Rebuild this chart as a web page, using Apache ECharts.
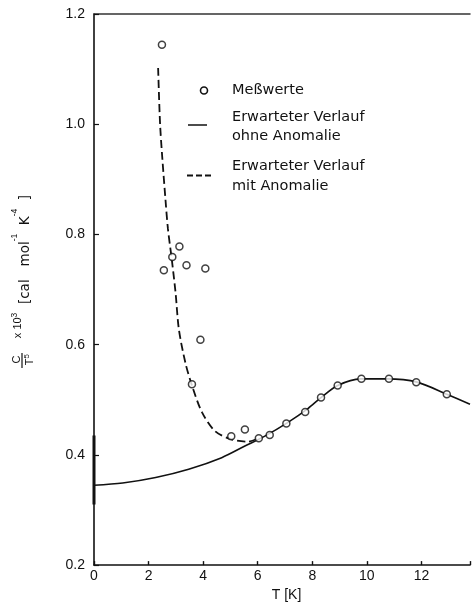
<!DOCTYPE html>
<html><head><meta charset="utf-8">
<script src="https://cdn.jsdelivr.net/npm/echarts@6/dist/echarts.min.js"></script>
<style>html,body{margin:0;padding:0;background:#fff}#c{width:473px;height:607px}</style>
</head><body><div id="c"></div>
<script>
// Measured values (Meßwerte)
const measT = [2.49, 3.13, 2.87, 2.56, 3.39, 4.08, 3.90, 3.59, 5.03, 5.53, 6.04, 6.44, 7.05, 7.74, 8.32, 8.93, 9.80, 10.81, 11.81, 12.93];
const measC = [1.144, 0.778, 0.759, 0.735, 0.744, 0.738, 0.609, 0.528, 0.434, 0.446, 0.430, 0.436, 0.457, 0.478, 0.504, 0.526, 0.538, 0.538, 0.532, 0.510];
// Expected curve without anomaly
const fitT = [0, 1.05, 2.26, 3.47, 4.68, 5.53, 6.26, 7.11, 7.84, 8.32, 8.93, 9.77, 10.75, 11.84, 12.93, 13.78];
const fitC = [0.345, 0.349, 0.359, 0.374, 0.395, 0.416, 0.434, 0.459, 0.484, 0.504, 0.526, 0.538, 0.538, 0.532, 0.510, 0.492];
// Expected curve with anomaly
const anomT = [2.35, 2.42, 2.50, 2.62, 2.71, 2.85, 2.99, 3.11, 3.35, 3.59, 3.96, 4.44, 5.05, 5.65, 6.02];
const anomC = [1.102, 1.002, 0.941, 0.863, 0.810, 0.755, 0.694, 0.628, 0.567, 0.526, 0.477, 0.443, 0.428, 0.424, 0.430];
// short thick segment on the y axis
const segT = [0, 0];
const segC = [0.31, 0.435];
// axis settings
const xTickLabels = [0, 2, 4, 6, 8, 10, 12];
const yTickLabels = [0.2, 0.4, 0.6, 0.8, 1.0, 1.2];

const pairs = (a, b) => a.map((v, i) => [v, b[i]]);
const FONT = 'Liberation Sans';
const LFONT = 'DejaVu Sans';
const ink = '#111';

const chart = echarts.init(document.getElementById('c'), null, {renderer: 'canvas'});

const legendEls = [
  {type: 'circle', shape: {cx: 204, cy: 90.5, r: 3.5}, style: {fill: 'none', stroke: ink, lineWidth: 1.6}},
  {type: 'text', x: 232, y: 90.5, style: {text: 'Meßwerte', fontFamily: LFONT, fontSize: 14.5, fill: ink, verticalAlign: 'middle'}},
  {type: 'line', shape: {x1: 188, y1: 125, x2: 207, y2: 125}, style: {stroke: ink, lineWidth: 1.5}},
  {type: 'text', x: 232, y: 117, style: {text: 'Erwarteter Verlauf', fontFamily: LFONT, fontSize: 14.5, fill: ink, verticalAlign: 'middle'}},
  {type: 'text', x: 232, y: 136, style: {text: 'ohne Anomalie', fontFamily: LFONT, fontSize: 14.5, fill: ink, verticalAlign: 'middle'}},
  {type: 'line', shape: {x1: 187, y1: 175.5, x2: 212, y2: 175.5}, style: {stroke: ink, lineWidth: 2, lineDash: [6, 3]}},
  {type: 'text', x: 232, y: 166, style: {text: 'Erwarteter Verlauf', fontFamily: LFONT, fontSize: 14.5, fill: ink, verticalAlign: 'middle'}},
  {type: 'text', x: 232, y: 186, style: {text: 'mit Anomalie', fontFamily: LFONT, fontSize: 14.5, fill: ink, verticalAlign: 'middle'}},
  // fraction bar of C / T^5
  {type: 'line', shape: {x1: 22, y1: 368, x2: 22, y2: 353}, style: {stroke: ink, lineWidth: 1.2}}
];

const xMin = 0, xMax = 13.78;
const hiddenY = {
  type: 'value', min: 0.2, max: 1.2, position: 'left',
  axisLine: {show: false}, axisTick: {show: false}, axisLabel: {show: false}, splitLine: {show: false}
};
chart.setOption({
  animation: false,
  backgroundColor: '#fff',
  grid: {left: 94, right: 0, top: 14, bottom: 41},
  xAxis: [{
    type: 'value', min: xMin, max: xMax, interval: 2,
    name: 'T [K]', nameLocation: 'middle', nameGap: 27,
    nameTextStyle: {fontFamily: FONT, fontSize: 14, color: ink, verticalAlign: 'middle', padding: [0, 0, 0, 9]},
    axisLine: {lineStyle: {color: ink, width: 1.6}},
    axisTick: {inside: true, length: 4, lineStyle: {color: ink, width: 1.4}},
    splitLine: {show: false},
    axisLabel: {fontFamily: FONT, fontSize: 14, color: ink, margin: 4,
      formatter: v => xTickLabels.includes(Math.round(v * 100) / 100) ? String(v) : ''}
  }, {
    type: 'value', position: 'top', min: xMin, max: xMax,
    axisLine: {show: true, lineStyle: {color: '#333', width: 1.5}},
    axisTick: {show: false}, axisLabel: {show: false}, splitLine: {show: false}
  }],
  yAxis: [{
    type: 'value', min: 0.2, max: 1.2, interval: 0.2,
    name: '{m|x 10}{s|3}{a|  [cal   mol}{s|-1}{a|  K}{s|-4}{a|  ]}',
    nameLocation: 'middle', nameRotate: 90, nameGap: 69,
    nameTextStyle: {
      color: ink, verticalAlign: 'middle', align: 'center', padding: [0, 0, 0, 46],
      rich: {
        a: {fontFamily: LFONT, fontSize: 13.5, lineHeight: 30, color: ink, verticalAlign: 'middle'},
        m: {fontFamily: FONT, fontSize: 11, lineHeight: 11, color: ink, verticalAlign: 'top', padding: [2, 0, 0, 0]},
        s: {fontFamily: FONT, fontSize: 8.5, lineHeight: 10, color: ink, verticalAlign: 'top'}
      }
    },
    axisLine: {show: true, lineStyle: {color: ink, width: 1.6}},
    axisTick: {show: true, inside: true, length: 5, lineStyle: {color: ink, width: 1.2}},
    splitLine: {show: false},
    axisLabel: {fontFamily: FONT, fontSize: 14, color: ink, margin: 9,
      formatter: v => {
        const r = Math.round(v * 10) / 10;
        return yTickLabels.includes(r) ? r.toFixed(1) : '';
      }}
  }, Object.assign({}, hiddenY, {
    name: '{c|C}\n{t|T}{u|5}',
    nameLocation: 'middle', nameRotate: 90, nameGap: 71,
    nameTextStyle: {
      color: ink, verticalAlign: 'middle', align: 'center', padding: [0, 140, 0, 0],
      rich: {
        c: {fontFamily: FONT, fontSize: 11, lineHeight: 13, color: ink},
        t: {fontFamily: FONT, fontSize: 11, lineHeight: 13, color: ink},
        u: {fontFamily: FONT, fontSize: 8, lineHeight: 13, color: ink, verticalAlign: 'top'}
      }
    }
  })],
  series: [
    {
      name: 'Erwarteter Verlauf ohne Anomalie', type: 'line', data: pairs(fitT, fitC),
      smooth: 0.3, showSymbol: false,
      lineStyle: {color: ink, width: 1.6}, z: 2
    },
    {
      name: 'Erwarteter Verlauf mit Anomalie', type: 'line', data: pairs(anomT, anomC),
      smooth: 0.3, showSymbol: false,
      lineStyle: {color: ink, width: 1.8, type: [8, 4]}, z: 2
    },
    {
      name: 'seg', type: 'line', data: pairs(segT, segC), showSymbol: false,
      lineStyle: {color: ink, width: 3}, z: 3
    },
    {
      name: 'Meßwerte', type: 'scatter', data: pairs(measT, measC),
      symbol: 'circle', symbolSize: 7,
      itemStyle: {color: '#fff', borderColor: ink, borderWidth: 1.5}, z: 4
    }
  ],
  graphic: legendEls
});
</script></body></html>
